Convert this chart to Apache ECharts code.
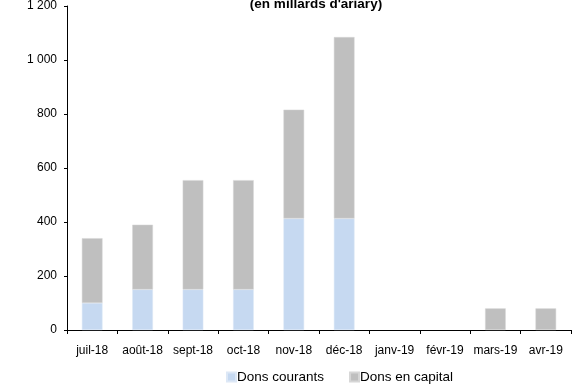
<!DOCTYPE html>
<html>
<head>
<meta charset="utf-8">
<script src="https://cdn.jsdelivr.net/npm/echarts@6/dist/echarts.min.js"></script>
<style>
  html, body { margin: 0; padding: 0; background: #fff; }
  #main { width: 577px; height: 385px; }
</style>
</head>
<body>
<div id="main"></div>
<script>
// données (en milliards d'ariary)
var mois = ['juil-18', 'août-18', 'sept-18', 'oct-18', 'nov-18', 'déc-18', 'janv-19', 'févr-19', 'mars-19', 'avr-19'];
var donsCourants = [100, 150, 150, 150, 413, 413, null, null, null, null];
var donsCapital = [240, 240, 405, 405, 403, 672, null, null, 80, 80];
var yTicks = [0, 200, 400, 600, 800, 1000, 1200];

var myChart = echarts.init(document.getElementById('main'));

function fmt(v) {
    // séparateur de milliers : espace
    return String(v).replace(/\B(?=(\d{3})+(?!\d))/g, ' ');
}

var option = {
    animation: false,
    textStyle: { fontFamily: 'Liberation Sans, Arial, sans-serif' },
    title: {
        text: "(en millards d'ariary)",
        left: 311,
        textAlign: 'center',
        top: -8,
        textStyle: { fontSize: 13.5, fontWeight: 'bold', color: '#000' }
    },
    legend: {
        top: 365,
        left: 221,
        itemWidth: 9,
        itemHeight: 9,
        itemGap: 25,
        icon: 'rect',
        textStyle: { fontSize: 13.5, color: '#000', padding: [0, 0, 0, -4] },
        data: ['Dons courants', 'Dons en capital']
    },
    grid: { left: 67, right: 6, top: 6, bottom: 55 },
    xAxis: {
        type: 'category',
        data: mois,
        axisLine: { lineStyle: { color: '#000', width: 1 } },
        axisTick: { show: true, length: 4, lineStyle: { color: '#000' } },
        axisLabel: { color: '#000', fontSize: 12, margin: 15, interval: 0 }
    },
    yAxis: {
        type: 'value',
        min: yTicks[0],
        max: yTicks[yTicks.length - 1],
        interval: 200,
        axisLine: { show: true, lineStyle: { color: '#000', width: 1 } },
        axisTick: { show: true, length: 3, lineStyle: { color: '#000' } },
        splitLine: { show: false },
        axisLabel: { color: '#000', fontSize: 12, margin: 10, formatter: fmt }
    },
    series: [
        {
            name: 'Dons courants',
            type: 'bar',
            stack: 'dons',
            barWidth: '41%',
            itemStyle: { color: '#c6d9f1', borderColor: '#dde8f6', borderWidth: 0.5 },
            data: donsCourants
        },
        {
            name: 'Dons en capital',
            type: 'bar',
            stack: 'dons',
            barWidth: '41%',
            itemStyle: { color: '#bfbfbf', borderColor: '#d6d6d6', borderWidth: 0.5 },
            data: donsCapital
        }
    ]
};
myChart.setOption(option);
</script>
</body>
</html>
